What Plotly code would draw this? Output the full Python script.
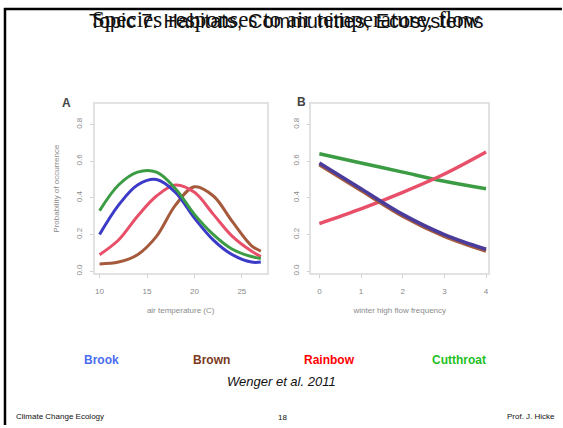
import plotly.graph_objects as go

W, H = 563, 428

species = ["Brook", "Brown", "Rainbow", "Cutthroat"]
legend_colors = ["#4a6cf0", "#7a3b1e", "#ff0000", "#1fbf1f"]
line_colors = {"Brook": "#3b3bc8", "Brown": "#a55a3c", "Rainbow": "#e8506a", "Cutthroat": "#3c9c44"}

# Panel A: air temperature (C)
temp_x = [10, 12, 14, 16, 18, 20, 22, 24, 26, 27]
temp_y = {
    "Cutthroat": [0.33, 0.47, 0.54, 0.54, 0.45, 0.31, 0.20, 0.12, 0.08, 0.07],
    "Brook":     [0.20, 0.36, 0.47, 0.50, 0.43, 0.29, 0.17, 0.09, 0.05, 0.05],
    "Rainbow":   [0.09, 0.17, 0.30, 0.41, 0.47, 0.43, 0.31, 0.19, 0.11, 0.08],
    "Brown":     [0.04, 0.05, 0.09, 0.19, 0.36, 0.46, 0.41, 0.27, 0.14, 0.11],
}
temp_ticks = [10, 15, 20, 25]

# Panel B: winter high flow frequency
flow_x = [0, 1, 2, 3, 4]
flow_y = {
    "Cutthroat": [0.64, 0.59, 0.54, 0.49, 0.45],
    "Rainbow":   [0.26, 0.34, 0.43, 0.53, 0.65],
    "Brown":     [0.58, 0.44, 0.30, 0.19, 0.11],
    "Brook":     [0.59, 0.45, 0.31, 0.20, 0.12],
}
flow_ticks = [0, 1, 2, 3, 4]
prob_ticks = [0.0, 0.2, 0.4, 0.6, 0.8]

fig = go.Figure()
for sp in ["Brown", "Rainbow", "Brook", "Cutthroat"]:
    fig.add_trace(go.Scatter(x=temp_x, y=temp_y[sp], mode="lines", xaxis="x", yaxis="y",
                             line=dict(color=line_colors[sp], width=3, shape="spline"),
                             showlegend=False, hoverinfo="skip"))
for sp in ["Cutthroat", "Rainbow", "Brown", "Brook"]:
    col = line_colors[sp] if sp != "Brook" else "#4a3c9c"
    fig.add_trace(go.Scatter(x=flow_x, y=flow_y[sp], mode="lines", xaxis="x2", yaxis="y2",
                             line=dict(color=col, width=3.5, shape="spline"),
                             showlegend=False, hoverinfo="skip"))

def px(x):
    return x / W

def py(y):
    return 1 - y / H

tick_font = dict(family="Liberation Sans", size=8, color="#8a8a8a")
title_font = dict(family="Liberation Sans", size=8, color="#8a8a8a")
axis_common = dict(showgrid=False, zeroline=False, showline=True, mirror=True,
                   linecolor="#e2e2e2", linewidth=1.5, ticks="outside", ticklen=3,
                   tickcolor="#d0d0d0", tickfont=tick_font)

fig.update_layout(
    width=W, height=H,
    margin=dict(l=0, r=0, t=0, b=0),
    paper_bgcolor="white", plot_bgcolor="white",
    xaxis=dict(domain=[px(95), px(267)], range=[9.5, 27.6], tickvals=temp_ticks,
               anchor="y", ticklabelstandoff=7, **axis_common,
               title=dict(text="air temperature (C)", font=title_font, standoff=12)),
    yaxis=dict(domain=[py(275), py(105)], range=[-0.01, 0.91], tickvals=prob_ticks,
               tickformat=".1f", tickangle=-90, anchor="x", ticklabelstandoff=5, **axis_common,
               title=dict(text="Probability of occurrence", font=title_font, standoff=14)),
    xaxis2=dict(domain=[px(312), px(489)], range=[-0.19, 4.05], tickvals=flow_ticks,
                anchor="y2", ticklabelstandoff=7, **axis_common,
                title=dict(text="winter high flow frequency", font=title_font, standoff=12)),
    yaxis2=dict(domain=[py(275), py(105)], range=[-0.01, 0.91], tickvals=prob_ticks,
                tickformat=".1f", tickangle=-90, anchor="x2", ticklabelstandoff=5, **axis_common),
    showlegend=False,
)

annotations = []
# overlapping slide titles (overlap as in the reference slide)
annotations.append(dict(text="Topic 7: Habitats, Communities, Ecosystems", x=px(287), y=py(21),
                        xref="paper", yref="paper", showarrow=False, xanchor="center", yanchor="middle",
                        font=dict(family="Liberation Sans", size=20, color="#111111")))
annotations.append(dict(text="Species responses to air temperature, flow", x=px(287), y=py(20),
                        xref="paper", yref="paper", showarrow=False, xanchor="center", yanchor="middle",
                        font=dict(family="Liberation Serif", size=23, color="#111111")))
# panel labels
annotations.append(dict(text="<b>A</b>", x=px(60), y=py(95), xref="paper", yref="paper", showarrow=False,
                        font=dict(family="Liberation Sans", size=12, color="#444444")))
annotations.append(dict(text="<b>B</b>", x=px(302), y=py(94), xref="paper", yref="paper", showarrow=False,
                        font=dict(family="Liberation Sans", size=12, color="#444444")))
# species legend
leg_x = [102, 212, 330, 460]
for sp, c, lx in zip(species, legend_colors, leg_x):
    annotations.append(dict(text=f"<b>{sp}</b>", x=px(lx), y=py(363), xref="paper", yref="paper",
                            showarrow=False, xanchor="center", yanchor="middle",
                            font=dict(family="Liberation Sans", size=12, color=c)))
annotations.append(dict(text="<i>Wenger et al. 2011</i>", x=px(282), y=py(384), xref="paper", yref="paper",
                        showarrow=False, xanchor="center", yanchor="middle",
                        font=dict(family="Liberation Sans", size=13, color="#111111")))
annotations.append(dict(text="Climate Change Ecology", x=px(14), y=py(419), xref="paper", yref="paper",
                        showarrow=False, xanchor="left", yanchor="middle",
                        font=dict(family="Liberation Sans", size=8, color="#111111")))
annotations.append(dict(text="18", x=px(283), y=py(420), xref="paper", yref="paper",
                        showarrow=False, xanchor="center", yanchor="middle",
                        font=dict(family="Liberation Sans", size=8, color="#111111")))
annotations.append(dict(text="Prof. J. Hicke", x=px(558), y=py(419), xref="paper", yref="paper",
                        showarrow=False, xanchor="right", yanchor="middle",
                        font=dict(family="Liberation Sans", size=8, color="#111111")))
fig.update_layout(annotations=annotations)

# slide border (top and left)
fig.update_layout(shapes=[
    dict(type="line", xref="paper", yref="paper", x0=px(4), x1=1, y0=py(9), y1=py(9),
         line=dict(color="black", width=2.5)),
    dict(type="line", xref="paper", yref="paper", x0=px(5), x1=px(5), y0=py(8), y1=0,
         line=dict(color="black", width=2.5)),
])

fig.write_html("out.html")
